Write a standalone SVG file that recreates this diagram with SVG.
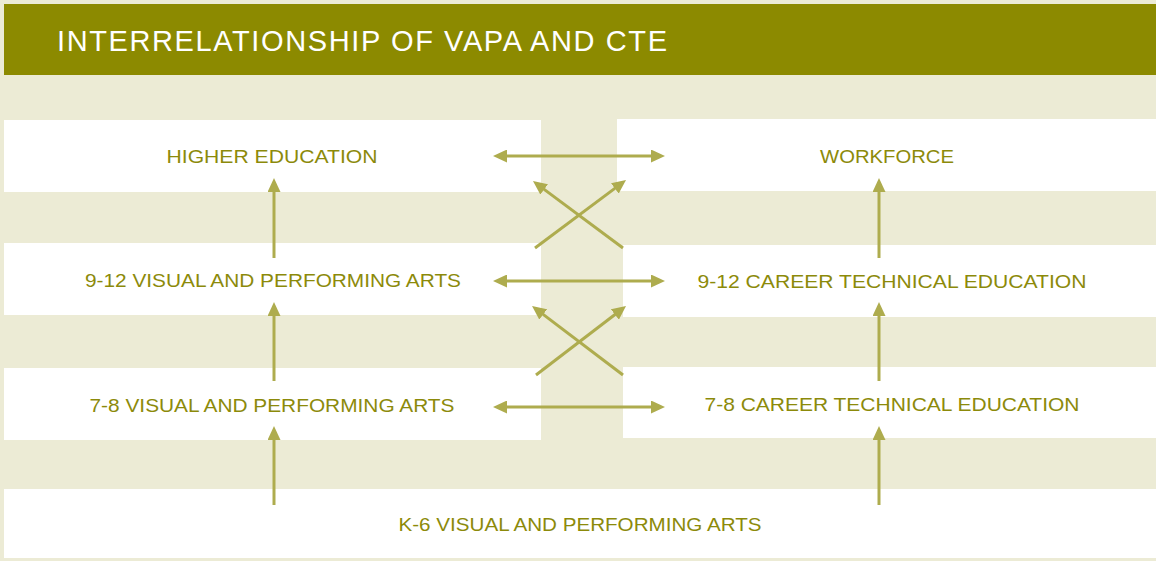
<svg xmlns="http://www.w3.org/2000/svg" width="1156" height="561" viewBox="0 0 1156 561">
<style>
.box{fill:#ffffff}
.lbl{font-family:"Liberation Sans",Arial,sans-serif;font-size:19px;fill:#8c8a0a;text-anchor:middle}
.title{font-family:"Liberation Sans",Arial,sans-serif;font-size:29px;fill:#ffffff}
.conn line{stroke:#aeac4e;stroke-width:3;fill:none}
.one{marker-end:url(#ah)}
.two{marker-start:url(#ah);marker-end:url(#ah)}
</style>
<defs>
<marker id="ah" markerUnits="userSpaceOnUse" markerWidth="14" markerHeight="13" refX="3" refY="6.5" orient="auto-start-reverse" viewBox="0 0 14 13">
<path d="M0,0 L14,6.5 L0,13 z" fill="#aeac4e"/>
</marker>
</defs>
<rect x="0" y="0" width="1156" height="561" fill="#ecebd5"/>
<g id="header">
<rect x="4" y="4" width="1152" height="71" fill="#8c8a00"/>
<text class="title" x="57" y="51" textLength="610" lengthAdjust="spacing">INTERRELATIONSHIP OF VAPA AND CTE</text>
</g>
<g id="higher-education">
<rect class="box" x="4" y="120" width="537" height="72"/>
<text class="lbl" x="272" y="163" textLength="211" lengthAdjust="spacingAndGlyphs">HIGHER EDUCATION</text>
</g>
<g id="workforce">
<rect class="box" x="617" y="119" width="539" height="72"/>
<text class="lbl" x="887" y="163" textLength="134" lengthAdjust="spacingAndGlyphs">WORKFORCE</text>
</g>
<g id="vapa-9-12">
<rect class="box" x="4" y="243" width="537" height="72"/>
<text class="lbl" x="273" y="287" textLength="376" lengthAdjust="spacingAndGlyphs">9-12 VISUAL AND PERFORMING ARTS</text>
</g>
<g id="cte-9-12">
<rect class="box" x="623" y="245" width="533" height="72"/>
<text class="lbl" x="892" y="288" textLength="389" lengthAdjust="spacingAndGlyphs">9-12 CAREER TECHNICAL EDUCATION</text>
</g>
<g id="vapa-7-8">
<rect class="box" x="4" y="368" width="537" height="72"/>
<text class="lbl" x="272" y="412" textLength="365" lengthAdjust="spacingAndGlyphs">7-8 VISUAL AND PERFORMING ARTS</text>
</g>
<g id="cte-7-8">
<rect class="box" x="623" y="367" width="533" height="71"/>
<text class="lbl" x="892" y="411" textLength="375" lengthAdjust="spacingAndGlyphs">7-8 CAREER TECHNICAL EDUCATION</text>
</g>
<g id="vapa-k-6">
<rect class="box" x="4" y="489" width="1152" height="69"/>
<text class="lbl" x="580" y="531" textLength="363" lengthAdjust="spacingAndGlyphs">K-6 VISUAL AND PERFORMING ARTS</text>
</g>
<g id="connectors" class="conn">
<line class="two" x1="504" y1="156" x2="654" y2="156"/>
<line class="two" x1="504" y1="281" x2="654" y2="281"/>
<line class="two" x1="504" y1="407" x2="654" y2="407"/>
<line class="one" x1="535" y1="248" x2="617.2" y2="186.6"/>
<line class="one" x1="623" y1="248" x2="541.8" y2="187.6"/>
<line class="one" x1="536" y1="375" x2="617.3" y2="312.7"/>
<line class="one" x1="623" y1="375" x2="540.8" y2="312.6"/>
<line class="one" x1="274" y1="258" x2="274" y2="189"/>
<line class="one" x1="274" y1="381" x2="274" y2="313"/>
<line class="one" x1="274" y1="505" x2="274" y2="437"/>
<line class="one" x1="879" y1="258" x2="879" y2="189"/>
<line class="one" x1="879" y1="381" x2="879" y2="313"/>
<line class="one" x1="879" y1="505" x2="879" y2="437"/>
</g>
</svg>
